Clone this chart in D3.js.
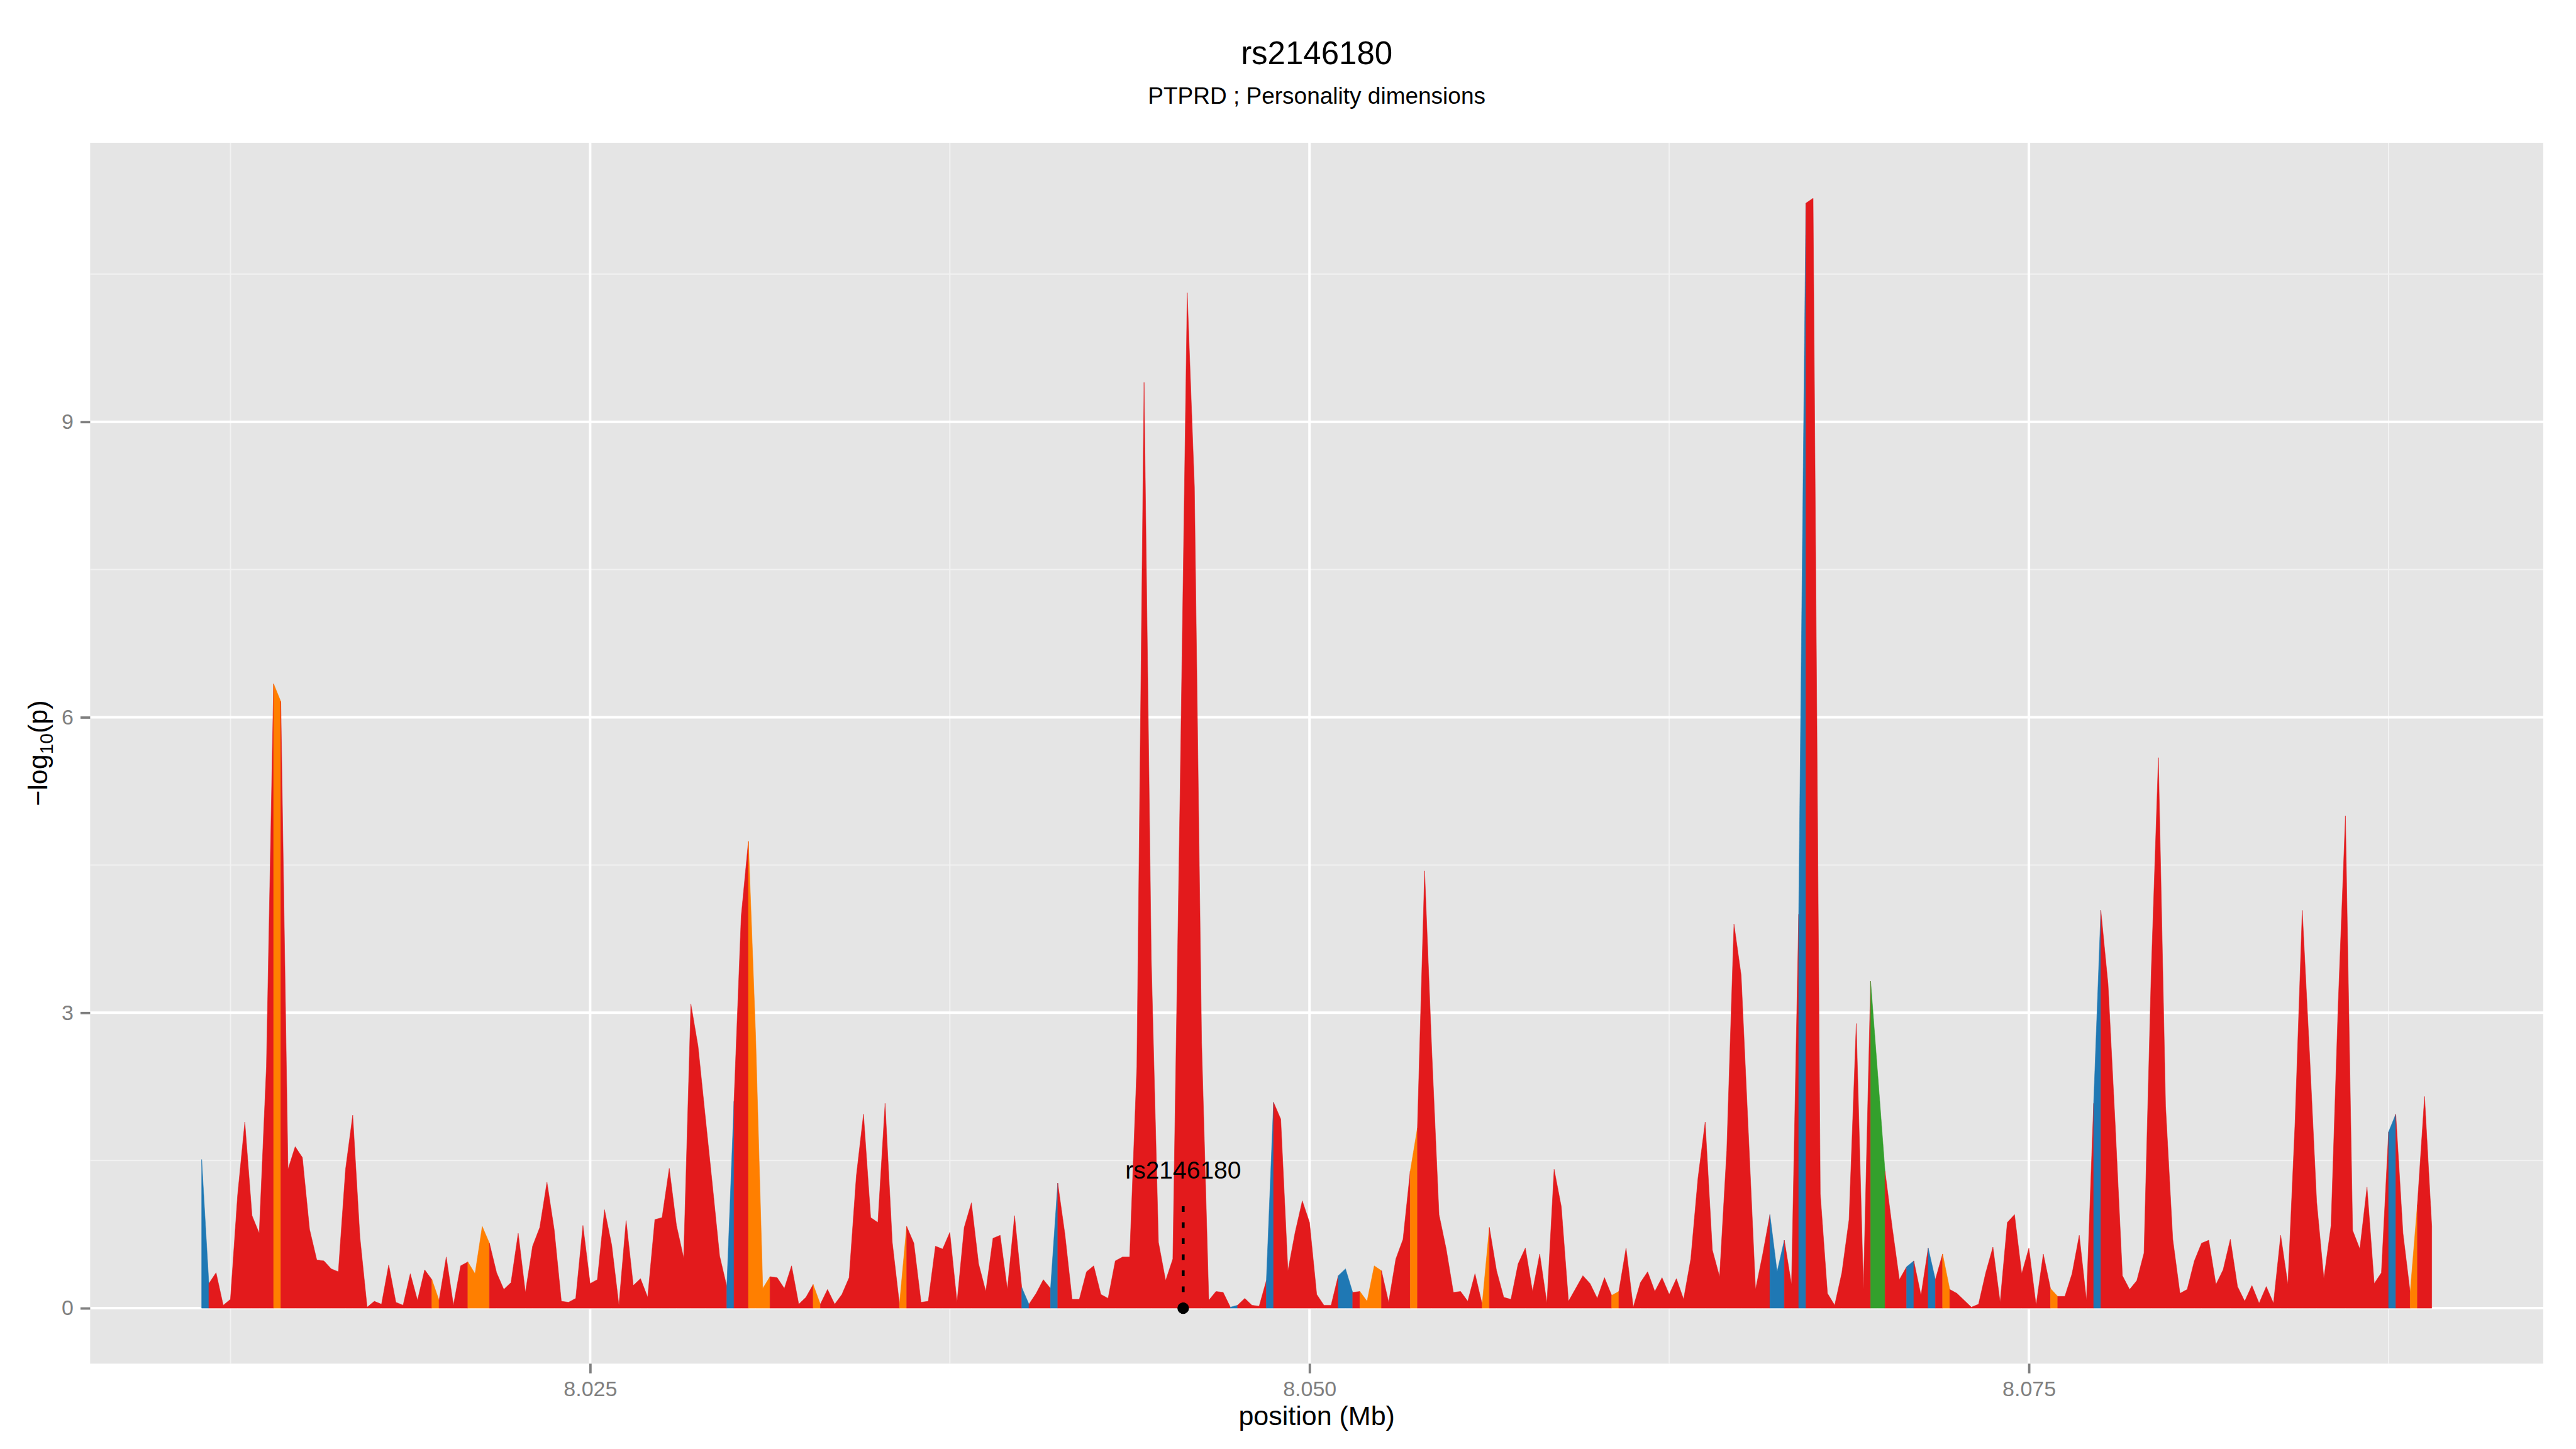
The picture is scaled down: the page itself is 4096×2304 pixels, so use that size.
<!DOCTYPE html>
<html>
<head>
<meta charset="utf-8">
<script src="https://cdn.jsdelivr.net/npm/d3@7"></script>
<style>
  html, body { margin: 0; padding: 0; background: #fff; }
  svg { display: block; }
  text { font-family: "Liberation Sans", Arial, Helvetica, sans-serif; }
</style>
</head>
<body>
<div id="chart"></div>
<script>
// SNP positions (Mb)
const positions = [
  8.0115, 8.01175, 8.012, 8.01225, 8.0125, 8.01275, 8.013, 8.01325, 8.0135, 8.01375,
  8.014, 8.01425, 8.0145, 8.01475, 8.015, 8.01525, 8.0155, 8.01575, 8.016, 8.01625,
  8.0165, 8.01675, 8.017, 8.01725, 8.0175, 8.01775, 8.018, 8.01825, 8.0185, 8.01875,
  8.019, 8.01925, 8.0195, 8.01975, 8.02, 8.02025, 8.0205, 8.02075, 8.021, 8.02125,
  8.0215, 8.02175, 8.022, 8.02225, 8.0225, 8.02275, 8.023, 8.02325, 8.0235, 8.02375,
  8.024, 8.02425, 8.0245, 8.02475, 8.025, 8.02525, 8.0255, 8.02575, 8.026, 8.02625,
  8.0265, 8.02675, 8.027, 8.02725, 8.0275, 8.02775, 8.028, 8.02825, 8.0285, 8.02875,
  8.029, 8.02925, 8.0295, 8.02975, 8.03, 8.03025, 8.0305, 8.03075, 8.031, 8.03125,
  8.0315, 8.03175, 8.032, 8.03225, 8.0325, 8.03275, 8.033, 8.03325, 8.0335, 8.03375,
  8.034, 8.03425, 8.0345, 8.03475, 8.035, 8.03525, 8.0355, 8.03575, 8.036, 8.03625,
  8.0365, 8.03675, 8.037, 8.03725, 8.0375, 8.03775, 8.038, 8.03825, 8.0385, 8.03875,
  8.039, 8.03925, 8.0395, 8.03975, 8.04, 8.04025, 8.0405, 8.04075, 8.041, 8.04125,
  8.0415, 8.04175, 8.042, 8.04225, 8.0425, 8.04275, 8.043, 8.04325, 8.0435, 8.04375,
  8.044, 8.04425, 8.0445, 8.04475, 8.045, 8.04525, 8.0455, 8.04575, 8.046, 8.04625,
  8.0465, 8.04675, 8.047, 8.04725, 8.0475, 8.04775, 8.048, 8.04825, 8.0485, 8.04875,
  8.049, 8.04925, 8.0495, 8.04975, 8.05, 8.05025, 8.0505, 8.05075, 8.051, 8.05125,
  8.0515, 8.05175, 8.052, 8.05225, 8.0525, 8.05275, 8.053, 8.05325, 8.0535, 8.05375,
  8.054, 8.05425, 8.0545, 8.05475, 8.055, 8.05525, 8.0555, 8.05575, 8.056, 8.05625,
  8.0565, 8.05675, 8.057, 8.05725, 8.0575, 8.05775, 8.058, 8.05825, 8.0585, 8.05875,
  8.059, 8.05925, 8.0595, 8.05975, 8.06, 8.06025, 8.0605, 8.06075, 8.061, 8.06125,
  8.0615, 8.06175, 8.062, 8.06225, 8.0625, 8.06275, 8.063, 8.06325, 8.0635, 8.06375,
  8.064, 8.06425, 8.0645, 8.06475, 8.065, 8.06525, 8.0655, 8.06575, 8.066, 8.06625,
  8.0665, 8.06675, 8.067, 8.06725, 8.0675, 8.06775, 8.068, 8.06825, 8.0685, 8.06875,
  8.069, 8.06925, 8.0695, 8.06975, 8.07, 8.07025, 8.0705, 8.07075, 8.071, 8.07125,
  8.0715, 8.07175, 8.072, 8.07225, 8.0725, 8.07275, 8.073, 8.07325, 8.0735, 8.07375,
  8.074, 8.07425, 8.0745, 8.07475, 8.075, 8.07525, 8.0755, 8.07575, 8.076, 8.07625,
  8.0765, 8.07675, 8.077, 8.07725, 8.0775, 8.07775, 8.078, 8.07825, 8.0785, 8.07875,
  8.079, 8.07925, 8.0795, 8.07975, 8.08, 8.08025, 8.0805, 8.08075, 8.081, 8.08125,
  8.0815, 8.08175, 8.082, 8.08225, 8.0825, 8.08275, 8.083, 8.08325, 8.0835, 8.08375,
  8.084, 8.08425, 8.0845, 8.08475, 8.085, 8.08525, 8.0855, 8.08575, 8.086, 8.08625,
  8.0865, 8.08675, 8.087, 8.08725, 8.0875, 8.08775, 8.088, 8.08825, 8.0885, 8.08875,
  8.089
];

// -log10(p) per SNP
const logP = [
  1.51, 0.25, 0.36, 0.03, 0.09, 1.15, 1.89, 0.94, 0.76, 2.45,
  6.34, 6.16, 1.41, 1.64, 1.53, 0.80, 0.49, 0.48, 0.40, 0.37,
  1.41, 1.96, 0.72, 0.01, 0.07, 0.04, 0.44, 0.06, 0.03, 0.35,
  0.08, 0.39, 0.29, 0.08, 0.52, 0.03, 0.43, 0.47, 0.35, 0.83,
  0.66, 0.36, 0.19, 0.26, 0.76, 0.16, 0.63, 0.82, 1.28, 0.80,
  0.07, 0.06, 0.10, 0.84, 0.25, 0.29, 1.00, 0.64, 0.03, 0.89,
  0.23, 0.30, 0.11, 0.90, 0.92, 1.42, 0.84, 0.51, 3.09, 2.66,
  1.95, 1.25, 0.53, 0.22, 2.10, 3.98, 4.74, 2.78, 0.20, 0.32,
  0.31, 0.20, 0.43, 0.04, 0.11, 0.24, 0.04, 0.19, 0.04, 0.14,
  0.31, 1.34, 1.97, 0.92, 0.87, 2.08, 0.67, 0.04, 0.83, 0.66,
  0.06, 0.07, 0.63, 0.60, 0.77, 0.06, 0.82, 1.07, 0.45, 0.17,
  0.71, 0.74, 0.19, 0.94, 0.21, 0.04, 0.15, 0.29, 0.20, 1.27,
  0.75, 0.09, 0.09, 0.37, 0.43, 0.14, 0.10, 0.48, 0.52, 0.52,
  2.45, 9.40, 3.55, 0.67, 0.28, 0.50, 5.20, 10.31, 8.34, 2.70,
  0.08, 0.17, 0.16, 0.01, 0.03, 0.10, 0.03, 0.02, 0.28, 2.09,
  1.92, 0.38, 0.77, 1.09, 0.87, 0.14, 0.03, 0.03, 0.33, 0.40,
  0.16, 0.17, 0.07, 0.43, 0.38, 0.06, 0.50, 0.70, 1.39, 1.83,
  4.44, 2.60, 0.95, 0.60, 0.16, 0.17, 0.07, 0.35, 0.04, 0.82,
  0.38, 0.11, 0.09, 0.45, 0.61, 0.17, 0.55, 0.05, 1.41, 1.03,
  0.07, 0.20, 0.33, 0.25, 0.10, 0.31, 0.13, 0.17, 0.61, 0.01,
  0.26, 0.37, 0.17, 0.31, 0.14, 0.30, 0.09, 0.50, 1.32, 1.89,
  0.59, 0.32, 1.60, 3.90, 3.38, 1.79, 0.19, 0.55, 0.95, 0.37,
  0.69, 0.24, 4.00, 11.22, 11.27, 1.16, 0.15, 0.03, 0.36, 0.90,
  2.89, 0.19, 3.32, 2.36, 1.39, 0.82, 0.29, 0.42, 0.48, 0.13,
  0.61, 0.29, 0.55, 0.19, 0.15, 0.08, 0.01, 0.04, 0.36, 0.62,
  0.06, 0.87, 0.95, 0.35, 0.61, 0.03, 0.55, 0.20, 0.12, 0.12,
  0.35, 0.74, 0.08, 2.08, 4.04, 3.29, 1.86, 0.33, 0.19, 0.28,
  0.56, 3.40, 5.59, 2.05, 0.70, 0.15, 0.19, 0.48, 0.66, 0.69,
  0.24, 0.39, 0.70, 0.22, 0.07, 0.23, 0.05, 0.22, 0.05, 0.74,
  0.24, 1.89, 4.04, 2.60, 1.08, 0.30, 0.84, 3.10, 5.00, 0.79,
  0.60, 1.23, 0.25, 0.36, 1.79, 1.97, 0.76, 0.16, 1.05, 2.15,
  0.83
];

// SNP indices whose segment (to the next SNP) is not red
const blueSnps = [0, 73, 114, 118, 143, 148, 158, 159, 218, 219, 222, 237, 240, 263, 304];
const orangeSnps = [10, 32, 37, 38, 39, 76, 77, 78, 85, 97, 161, 162, 163, 168, 178, 196, 242, 257, 307];
const greenSnps = [232, 233];

const yTicks = [0, 3, 6, 9];
const yMinor = [1.5, 4.5, 7.5, 10.5];
const xTicks = [8.025, 8.05, 8.075];
const xTickLabels = ['8.025', '8.050', '8.075'];
const xMinor = [8.0125, 8.0375, 8.0625, 8.0875];

const plotTitle = 'rs2146180';
const plotSubtitle = 'PTPRD ; Personality dimensions';
const snpName = 'rs2146180';
const snpPos = 8.04561;
const snpLabelY = 1.40;
const snpLineTop = 1.13;

const palette = { red: '#E31A1C', blue: '#1F78B4', orange: '#FF7F00', green: '#33A02C' };

// everything measured on the 4800x2700 original, scaled to the window
const W = 4096, H = 2304, k = W / 4800;
const panel = { left: 168 * k, right: 4739 * k, top: 266 * k, bottom: 2541 * k };

const svg = d3.select('#chart')
  .append('svg')
  .attr('width', W)
  .attr('height', H);

svg.append('rect').attr('width', W).attr('height', H).attr('fill', '#fff');

// ggplot style 5% expansion
const xExt = d3.extent(positions);
const xPad = (xExt[1] - xExt[0]) * 0.05;
const yMax = d3.max(logP);
const yPad = yMax * 0.05;

const x = d3.scaleLinear()
  .domain([xExt[0] - xPad, xExt[1] + xPad])
  .range([panel.left, panel.right]);

const y = d3.scaleLinear()
  .domain([-yPad, yMax + yPad])
  .range([panel.bottom, panel.top]);

// panel + grid
svg.append('rect')
  .attr('x', panel.left)
  .attr('y', panel.top)
  .attr('width', panel.right - panel.left)
  .attr('height', panel.bottom - panel.top)
  .attr('fill', '#E5E5E5');

const grid = svg.append('g');
grid.selectAll('.ymin').data(yMinor).enter().append('line')
  .attr('x1', panel.left).attr('x2', panel.right)
  .attr('y1', d => y(d)).attr('y2', d => y(d))
  .attr('stroke', '#F2F2F2').attr('stroke-width', 2);
grid.selectAll('.xmin').data(xMinor).enter().append('line')
  .attr('y1', panel.top).attr('y2', panel.bottom)
  .attr('x1', d => x(d)).attr('x2', d => x(d))
  .attr('stroke', '#F2F2F2').attr('stroke-width', 2);
grid.selectAll('.ymaj').data(yTicks).enter().append('line')
  .attr('x1', panel.left).attr('x2', panel.right)
  .attr('y1', d => y(d)).attr('y2', d => y(d))
  .attr('stroke', '#fff').attr('stroke-width', 4);
grid.selectAll('.xmaj').data(xTicks).enter().append('line')
  .attr('y1', panel.top).attr('y2', panel.bottom)
  .attr('x1', d => x(d)).attr('x2', d => x(d))
  .attr('stroke', '#fff').attr('stroke-width', 4);

// colour of each segment between SNP i and i+1
const segCat = d3.range(positions.length - 1).map(() => 'red');
blueSnps.forEach(i => segCat[i] = 'blue');
orangeSnps.forEach(i => segCat[i] = 'orange');
greenSnps.forEach(i => segCat[i] = 'green');

const points = positions.map((p, i) => ({ pos: p, v: logP[i] }));

// group consecutive segments with the same colour
const runs = [];
let start = 0;
for (let i = 1; i <= segCat.length; i++) {
  if (i === segCat.length || segCat[i] !== segCat[start]) {
    runs.push({ cat: segCat[start], pts: points.slice(start, i + 1) });
    start = i;
  }
}

const area = d3.area()
  .x(d => x(d.pos))
  .y0(y(0))
  .y1(d => y(d.v));

svg.append('g')
  .selectAll('path')
  .data(runs)
  .enter()
  .append('path')
  .attr('d', d => area(d.pts))
  .attr('fill', d => palette[d.cat])
  .attr('stroke', d => palette[d.cat])
  .attr('stroke-width', 0.6)
  .attr('stroke-linejoin', 'round');

// highlighted SNP
const snp = svg.append('g');
snp.append('line')
  .attr('x1', x(snpPos)).attr('x2', x(snpPos))
  .attr('y1', y(0)).attr('y2', y(snpLineTop))
  .attr('stroke', '#000')
  .attr('stroke-width', 4.5)
  .attr('stroke-dasharray', '9 16.5');
snp.append('circle')
  .attr('cx', x(snpPos)).attr('cy', y(0))
  .attr('r', 9.2)
  .attr('fill', '#000');
snp.append('text')
  .attr('x', x(snpPos))
  .attr('y', y(snpLabelY))
  .attr('dy', '0.35em')
  .attr('text-anchor', 'middle')
  .style('font-size', '39px')
  .style('fill', '#000')
  .text(snpName);

// axes
const tickLen = 18 * k;
const yAxis = svg.append('g')
  .attr('transform', `translate(${panel.left},0)`)
  .call(d3.axisLeft(y).tickValues(yTicks).tickSize(tickLen).tickPadding(11).tickFormat(d3.format('d')));
const xAxis = svg.append('g')
  .attr('transform', `translate(0,${panel.bottom})`)
  .call(d3.axisBottom(x).tickValues(xTicks).tickSize(tickLen).tickPadding(12).tickFormat((d, i) => xTickLabels[i]));

[yAxis, xAxis].forEach(g => {
  g.select('.domain').remove();
  g.selectAll('.tick line').attr('stroke', '#7F7F7F').attr('stroke-width', 3.8);
  g.selectAll('.tick text')
    .attr('fill', '#7F7F7F')
    .style('font-size', '34px')
    .style('font-family', '"Liberation Sans", Arial, Helvetica, sans-serif');
});

// titles
const cx = (panel.left + panel.right) / 2;
svg.append('text')
  .attr('x', cx).attr('y', 119 * k)
  .attr('text-anchor', 'middle')
  .style('font-size', '51px')
  .text(plotTitle);
svg.append('text')
  .attr('x', cx).attr('y', 193 * k)
  .attr('text-anchor', 'middle')
  .style('font-size', '37px')
  .text(plotSubtitle);

svg.append('text')
  .attr('x', cx).attr('y', 2655 * k)
  .attr('text-anchor', 'middle')
  .style('font-size', '43px')
  .text('position (Mb)');

const yTitle = svg.append('text')
  .attr('transform', `translate(${88 * k},${(panel.top + panel.bottom) / 2}) rotate(-90)`)
  .attr('text-anchor', 'middle')
  .style('font-size', '43px');
yTitle.append('tspan').text('\u2212log');
yTitle.append('tspan').attr('dy', '0.3em').style('font-size', '30px').text('10');
yTitle.append('tspan').attr('dy', '-0.21em').text('(p)');
</script>
</body>
</html>
